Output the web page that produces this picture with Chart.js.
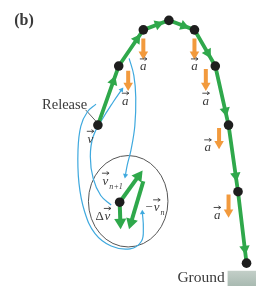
<!DOCTYPE html>
<html>
<head>
<meta charset="utf-8">
<script src="https://cdn.jsdelivr.net/npm/chart.js@4"></script>
<style>
html, body { margin: 0; padding: 0; background: #fff; }
canvas { display: block; }
</style>
</head>
<body>
<canvas id="chart" width="263" height="293"></canvas>
<script>
// path of the ball, one point per time step (y grows downward)
const trajX = [96, 118, 144, 171, 198, 220, 234, 244, 253]
const trajY = [124, 62, 24, 14, 24, 62, 124, 194, 269]
// how far along each step the green arrowhead sits
const headAt = [0.74, 0.74, 0.58, 0.58, 0.64, 0.76, 0.76, 0.8]

// acceleration arrows and their labels
const accX = [128, 144, 198, 210, 224, 234]
const accTop = [67, 33, 33, 65, 127, 197]
const accBot = [88, 55, 55, 88, 149, 221]
const accLabelX = [125, 144, 198, 210, 212, 222]
const accLabelY = [99, 63, 63, 99, 148, 219]

// vectors inside the inset: x1, y1, x2, y2
const insetDot = [119, 205]
const vNext = [119, 205, 143, 172]
const vPrevNeg = [144, 183, 129, 233]
const deltaV = [119, 205, 120, 233]

// blue pointer curves
const curve1X = [94, 85, 78, 75, 76, 82, 93, 110, 130, 142, 144, 143]
const curve1Y = [102, 110, 125, 150, 185, 215, 238, 251, 254, 246, 232, 216]
const curve2X = [110, 99, 91, 88, 91, 100, 112, 121]
const curve2Y = [208, 198, 180, 157, 136, 119, 100, 87]
const curve3X = [129, 134, 136, 135, 131, 127, 125]
const curve3Y = [54, 72, 95, 125, 150, 166, 177]

const green = '#2fa84b'
const orange = '#f29a3d'
const blue = '#3fa9de'
const ink = '#3a3a3a'

function pts(xs, ys) {
    return xs.map((x, i) => ({x: x, y: ys[i]}))
}

function rot(x1, y1, x2, y2) {
    return Math.atan2(y2 - y1, x2 - x1) * 180 / Math.PI + 90
}

function arrow(x1, y1, x2, y2, color, width, r, order)
{
    const len = Math.hypot(x2 - x1, y2 - y1)
    const cx = x2 - (x2 - x1) / len * r
    const cy = y2 - (y2 - y1) / len * r
    return [
        {data: [{x: x1, y: y1}, {x: cx, y: cy}], showLine: true, borderColor: color,
            borderWidth: width, pointRadius: 0, order: order},
        {data: [{x: cx, y: cy}], pointStyle: 'triangle', pointRotation: rot(x1, y1, x2, y2),
            pointRadius: r, pointBackgroundColor: color, pointBorderWidth: 0, order: order}
    ]
}

function curve(xs, ys, order)
{
    const n = xs.length
    return [
        {data: pts(xs, ys), showLine: true, tension: 0.4, borderColor: blue,
            borderWidth: 1.2, pointRadius: 0, order: order},
        {data: [{x: xs[n - 1], y: ys[n - 1]}], pointStyle: 'triangle',
            pointRotation: rot(xs[n - 2], ys[n - 2], xs[n - 1], ys[n - 1]),
            pointRadius: 3, pointBackgroundColor: blue, pointBorderWidth: 0, order: order}
    ]
}

function build_datasets()
{
    let sets = []

    sets = sets.concat(curve(curve1X, curve1Y, 6), curve(curve2X, curve2Y, 6), curve(curve3X, curve3Y, 6))

    accX.forEach((x, i) => {
        sets = sets.concat(arrow(x, accTop[i], x, accBot[i], orange, 4, 5.5, 5))
    })

    // trajectory with its dots
    sets.push({data: pts(trajX, trajY), showLine: true, borderColor: green, borderWidth: 3.8,
        pointRadius: 4.8, pointBackgroundColor: '#1e1e1e', pointBorderWidth: 0, order: 3})

    // green arrowheads along each step
    const heads = [], rots = []
    headAt.forEach((t, i) => {
        heads.push({x: trajX[i] + (trajX[i + 1] - trajX[i]) * t, y: trajY[i] + (trajY[i + 1] - trajY[i]) * t})
        rots.push(rot(trajX[i], trajY[i], trajX[i + 1], trajY[i + 1]))
    })
    sets.push({data: heads, pointStyle: 'triangle', pointRotation: rots, pointRadius: 6,
        pointBackgroundColor: green, pointBorderWidth: 0, order: 2})

    sets = sets.concat(
        arrow(...vNext, green, 4, 7, 2),
        arrow(...vPrevNeg, green, 4, 7, 2),
        arrow(...deltaV, green, 4, 7, 2)
    )
    sets.push({data: [{x: insetDot[0], y: insetDot[1]}], pointRadius: 4.8,
        pointBackgroundColor: '#1e1e1e', pointBorderWidth: 0, order: 1})

    return sets
}

function vecText(ctx, sx, sy, x, y, letter, sub, size)
{
    const px = sx.getPixelForValue(x), py = sy.getPixelForValue(y)
    ctx.font = 'italic ' + size + 'px "Liberation Serif"'
    ctx.textAlign = 'center'
    ctx.textBaseline = 'middle'
    ctx.fillText(letter, px, py)
    // little arrow over the letter
    const ay = py - size * 0.62
    ctx.lineWidth = 0.9
    ctx.beginPath()
    ctx.moveTo(px - 3.5, ay)
    ctx.lineTo(px + 3.5, ay)
    ctx.moveTo(px + 1.2, ay - 1.6)
    ctx.lineTo(px + 3.6, ay)
    ctx.lineTo(px + 1.2, ay + 1.6)
    ctx.stroke()
    if (sub) {
        ctx.font = 'italic ' + (size * 0.62) + 'px "Liberation Serif"'
        ctx.textAlign = 'left'
        ctx.fillText(sub, px + size * 0.3, py + size * 0.4)
    }
}

const overlay = {
    id: 'overlay',
    beforeDatasetsDraw(chart) {
        const ctx = chart.ctx, sx = chart.scales.x, sy = chart.scales.y
        ctx.save()
        // ground block
        const gx = sx.getPixelForValue(233), gy = sy.getPixelForValue(277)
        const grad = ctx.createLinearGradient(0, gy, 0, sy.getPixelForValue(293))
        grad.addColorStop(0, '#c3cfc8')
        grad.addColorStop(1, '#a9bab1')
        ctx.fillStyle = grad
        ctx.fillRect(gx, gy, sx.getPixelForValue(263) - gx, sy.getPixelForValue(293) - gy)
        // inset circle
        ctx.strokeStyle = '#555'
        ctx.lineWidth = 1
        ctx.beginPath()
        ctx.ellipse(sx.getPixelForValue(128), sy.getPixelForValue(204),
            sx.getPixelForValue(170) - sx.getPixelForValue(128),
            sy.getPixelForValue(252) - sy.getPixelForValue(204), 0, 0, Math.PI * 2)
        ctx.stroke()
        // leader line from the Release label
        ctx.strokeStyle = ink
        ctx.lineWidth = 0.8
        ctx.beginPath()
        ctx.moveTo(sx.getPixelForValue(83), sy.getPixelForValue(108))
        ctx.lineTo(sx.getPixelForValue(94), sy.getPixelForValue(120))
        ctx.stroke()
        ctx.restore()
    },
    afterDatasetsDraw(chart) {
        const ctx = chart.ctx, sx = chart.scales.x, sy = chart.scales.y
        ctx.save()
        ctx.fillStyle = ink
        ctx.strokeStyle = ink
        ctx.textBaseline = 'middle'

        ctx.font = 'bold 16px "Liberation Serif"'
        ctx.textAlign = 'center'
        ctx.fillText('(b)', sx.getPixelForValue(18), sy.getPixelForValue(15))

        ctx.font = '14.5px "Liberation Serif"'
        ctx.textAlign = 'left'
        ctx.fillText('Release', sx.getPixelForValue(37), sy.getPixelForValue(103))
        ctx.font = '15.5px "Liberation Serif"'
        ctx.fillText('Ground', sx.getPixelForValue(180), sy.getPixelForValue(285))

        accLabelX.forEach((x, i) => vecText(ctx, sx, sy, x, accLabelY[i], 'a', '', 13))

        vecText(ctx, sx, sy, 88, 139, 'v', '', 13)
        vecText(ctx, sx, sy, 104, 183, 'v', 'n+1', 13)
        vecText(ctx, sx, sy, 106, 220, 'v', '', 13)
        vecText(ctx, sx, sy, 158, 211, 'v', 'n', 13)

        ctx.font = '13px "Liberation Serif"'
        ctx.textAlign = 'center'
        ctx.fillText('\u0394', sx.getPixelForValue(98), sy.getPixelForValue(220))
        ctx.fillText('\u2212', sx.getPixelForValue(150), sy.getPixelForValue(211))
        ctx.restore()
    }
}

let chart = null

function init()
{
    const ctx = document.getElementById('chart').getContext('2d')

    if (chart)
        chart.destroy()

    chart = new Chart(ctx, {
        type: 'scatter',
        data: {datasets: build_datasets()},
        options: {
            responsive: false,
            animation: false,
            layout: {padding: 0},
            scales: {
                x: {type: 'linear', min: 0, max: 263, display: false},
                y: {type: 'linear', min: 0, max: 293, reverse: true, display: false}
            },
            plugins: {legend: {display: false}, tooltip: {enabled: false}}
        },
        plugins: [overlay]
    })
}

init()
</script>
</body>
</html>
